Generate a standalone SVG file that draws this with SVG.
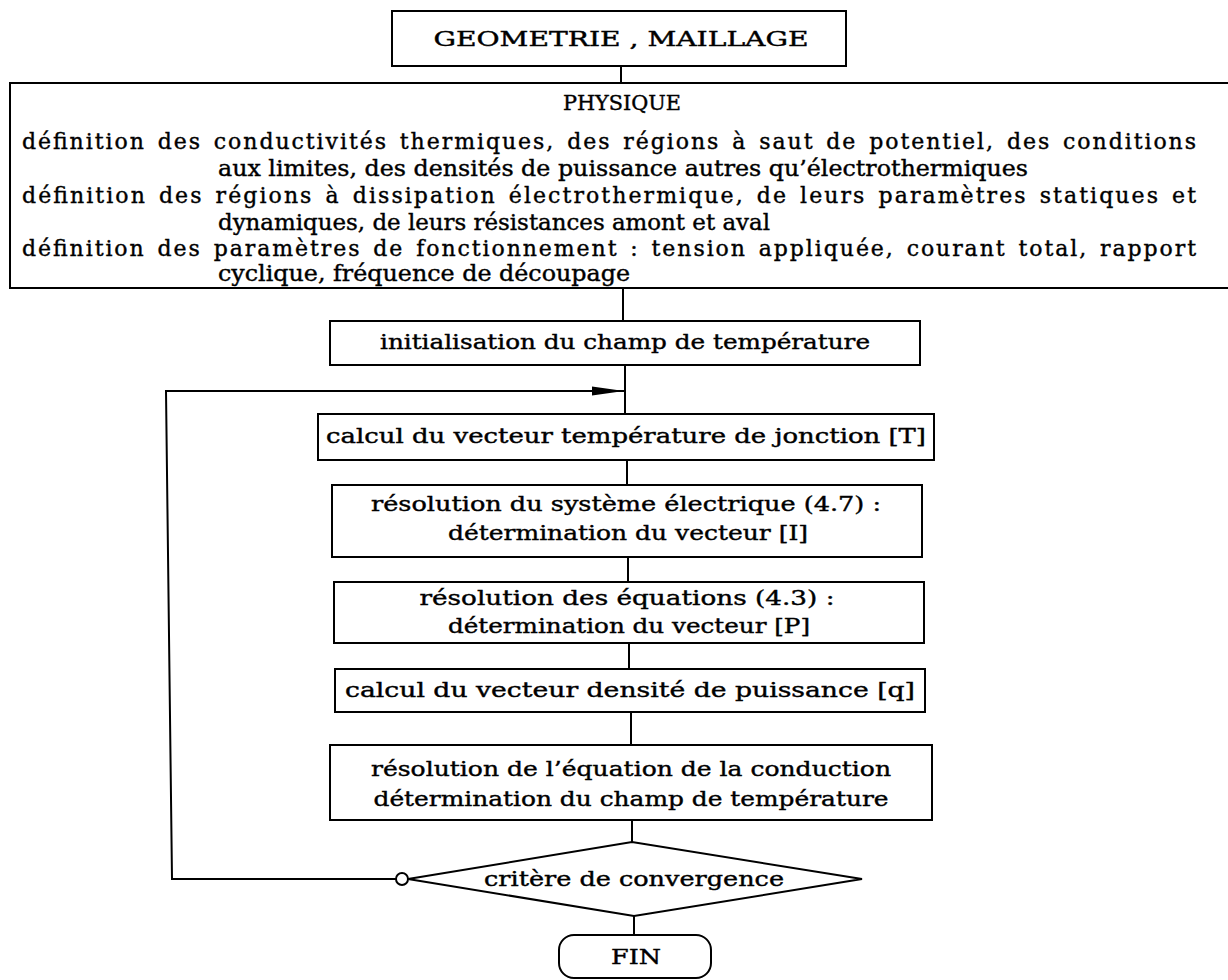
<svg xmlns="http://www.w3.org/2000/svg" width="1228" height="980" viewBox="0 0 1228 980">
<defs>
<style>
.box{fill:#fff;stroke:#000;stroke-width:2}
.ln{fill:none;stroke:#000;stroke-width:2}
text{font-family:"DejaVu Serif","Liberation Serif",serif;font-size:20px;fill:#000;stroke:#000;stroke-width:0.4}
.p{font-size:22px}
.c{text-anchor:middle}
.j{word-spacing:3px}
</style>
<marker id="arr" markerWidth="32" markerHeight="10" refX="32" refY="5" orient="auto" markerUnits="userSpaceOnUse">
<path d="M0,0.5 L32,5 L0,9.5 Z" fill="#000"/>
</marker>
</defs>
<rect width="1228" height="980" fill="#fff"/>
<g id="connectors">
<line class="ln" x1="621" y1="66" x2="621" y2="83"/>
<line class="ln" x1="623" y1="288" x2="623" y2="321"/>
<line class="ln" x1="625" y1="365" x2="625" y2="414"/>
<line class="ln" x1="627" y1="460" x2="627" y2="485"/>
<line class="ln" x1="628" y1="557" x2="628" y2="582"/>
<line class="ln" x1="629" y1="643" x2="629" y2="669"/>
<line class="ln" x1="631" y1="712" x2="631" y2="745"/>
<line class="ln" x1="632" y1="820" x2="632" y2="842"/>
<line class="ln" x1="634" y1="916" x2="634" y2="935"/>
<polyline class="ln" points="402,879 172,879 166,391 624,391" marker-end="url(#arr)"/>
</g>
<g id="geometrie">
<rect class="box" x="392" y="11" width="454" height="55"/>
<text class="c" x="621" y="46" textLength="375" lengthAdjust="spacingAndGlyphs">GEOMETRIE , MAILLAGE</text>
</g>
<g id="physique">
<rect class="box" x="10" y="83" width="1230" height="205"/>
<text class="c" x="622" y="110" font-size="21" textLength="118" lengthAdjust="spacingAndGlyphs">PHYSIQUE</text>
<text class="p j" x="22" y="149" textLength="1174" lengthAdjust="spacing">définition des conductivités thermiques, des régions à saut de potentiel, des conditions</text>
<text class="p" x="218" y="176" textLength="810" lengthAdjust="spacingAndGlyphs">aux limites, des densités de puissance autres qu’électrothermiques</text>
<text class="p j" x="22" y="203" textLength="1174" lengthAdjust="spacing">définition des régions à dissipation électrothermique, de leurs paramètres statiques et</text>
<text class="p" x="218" y="230" textLength="552" lengthAdjust="spacingAndGlyphs">dynamiques, de leurs résistances amont et aval</text>
<text class="p j" x="22" y="256" textLength="1174" lengthAdjust="spacing">définition des paramètres de fonctionnement : tension appliquée, courant total, rapport</text>
<text class="p" x="218" y="281" textLength="412" lengthAdjust="spacingAndGlyphs">cyclique, fréquence de découpage</text>
</g>
<g id="init">
<rect class="box" x="330" y="321" width="590" height="44"/>
<text class="c" x="625" y="349" textLength="490" lengthAdjust="spacingAndGlyphs">initialisation du champ de température</text>
</g>
<g id="calculT">
<rect class="box" x="318" y="414" width="616" height="46"/>
<text class="c" x="626" y="443" textLength="600" lengthAdjust="spacingAndGlyphs">calcul du vecteur température de jonction [T]</text>
</g>
<g id="elec">
<rect class="box" x="332" y="485" width="590" height="72"/>
<text class="c" x="626" y="511" textLength="510" lengthAdjust="spacingAndGlyphs">résolution du système électrique (4.7) :</text>
<text class="c" x="628" y="540" textLength="360" lengthAdjust="spacingAndGlyphs">détermination du vecteur [I]</text>
</g>
<g id="equations">
<rect class="box" x="334" y="582" width="590" height="61"/>
<text class="c" x="627" y="605" textLength="415" lengthAdjust="spacingAndGlyphs">résolution des équations (4.3) :</text>
<text class="c" x="629" y="633" textLength="362" lengthAdjust="spacingAndGlyphs">détermination du vecteur [P]</text>
</g>
<g id="densite">
<rect class="box" x="335" y="669" width="590" height="43"/>
<text class="c" x="630" y="697" textLength="570" lengthAdjust="spacingAndGlyphs">calcul du vecteur densité de puissance [q]</text>
</g>
<g id="conduction">
<rect class="box" x="330" y="745" width="602" height="75"/>
<text class="c" x="631" y="776" textLength="520" lengthAdjust="spacingAndGlyphs">résolution de l’équation de la conduction</text>
<text class="c" x="631" y="806" textLength="515" lengthAdjust="spacingAndGlyphs">détermination du champ de température</text>
</g>
<g id="critere">
<polygon class="box" points="408,879 632,842 862,879 634,916"/>
<circle cx="402" cy="879" r="6" fill="#fff" stroke="#000" stroke-width="2"/>
<text class="c" x="634" y="886" textLength="300" lengthAdjust="spacingAndGlyphs">critère de convergence</text>
</g>
<g id="fin">
<rect class="box" x="559" y="935" width="152" height="43" rx="15"/>
<text class="c" x="636" y="964" textLength="50" lengthAdjust="spacingAndGlyphs">FIN</text>
</g>
</svg>
